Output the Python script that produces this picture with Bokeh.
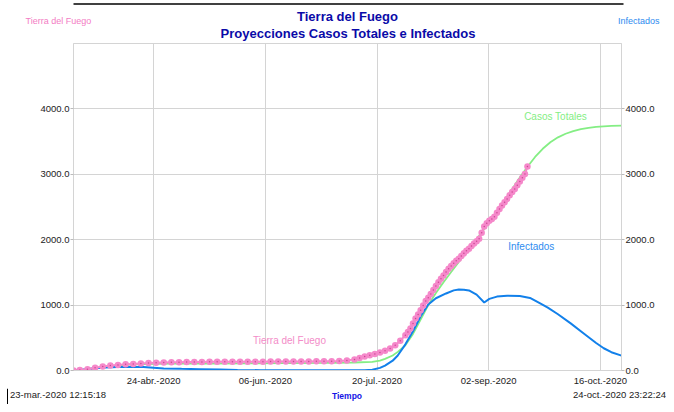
import pandas as pd
from bokeh.plotting import figure
from bokeh.layouts import column, row
from bokeh.models import (LinearAxis, FixedTicker, NumeralTickFormatter, Label,
                          Range1d)
from bokeh.core.properties import value
from bokeh.embed import file_html
from bokeh.resources import INLINE

ORIGIN = pd.Timestamp("2020-01-01")


def to_day(seq):
    ts = pd.Series([pd.Timestamp(s) for s in seq])
    return [round(v, 5) for v in ((ts - ORIGIN) / pd.Timedelta(days=1)).tolist()]


# ---------------- data ----------------
time_start = "2020-03-23 12:15:18"
time_end = "2020-10-24 23:22:24"
start_label = "23-mar.-2020 12:15:18"
end_label = "24-oct.-2020 23:22:24"

tick_times = ["2020-04-24 01:12", "2020-06-06 22:48", "2020-07-20 20:24",
              "2020-09-02 18:00", "2020-10-16 15:36"]
tick_labels = ["24-abr.-2020", "06-jun.-2020", "20-jul.-2020",
               "02-sep.-2020", "16-oct.-2020"]
y_ticks = [0, 1000, 2000, 3000, 4000]

# Tierra del Fuego (observed data)
tdf_dates = ([time_start, "2020-03-26", "2020-03-29", "2020-04-01", "2020-04-04",
              "2020-04-07", "2020-04-10", "2020-04-13", "2020-04-16", "2020-04-19",
              "2020-04-22", "2020-04-25", "2020-04-28", "2020-05-01", "2020-05-04",
              "2020-05-07", "2020-05-10", "2020-05-13", "2020-05-16", "2020-05-19",
              "2020-05-22", "2020-05-25", "2020-05-28", "2020-05-31", "2020-06-03",
              "2020-06-06", "2020-06-09", "2020-06-12", "2020-06-15", "2020-06-18",
              "2020-06-21", "2020-06-24", "2020-06-27", "2020-06-30", "2020-07-03",
              "2020-07-06", "2020-07-09", "2020-07-12", "2020-07-14", "2020-07-16",
              "2020-07-18", "2020-07-20", "2020-07-22", "2020-07-24", "2020-07-26",
              "2020-07-28", "2020-07-30"]
             + [d.strftime("%Y-%m-%d") for d in pd.date_range("2020-08-01", "2020-09-18")])
tdf_values = [0, 8, 20, 42, 60, 75, 86, 95, 101, 107,
              113, 118, 122, 125, 127, 129, 130, 131, 132, 132,
              133, 133, 134, 134, 135, 135, 136, 136, 137, 137,
              138, 139, 140, 141, 142, 145, 152, 170, 192, 213,
              232, 252, 276, 303, 338, 385, 455,
              # August (daily)
              540, 590, 644, 718, 796, 858, 922, 995, 1062, 1112,
              1170, 1232, 1292, 1350, 1402, 1452, 1508, 1557, 1598, 1640,
              1678, 1710, 1752, 1792, 1830, 1862, 1902, 1942, 1978, 2014, 2108,
              # September (daily)
              2200, 2252, 2290, 2318, 2350, 2412, 2468, 2522, 2572, 2622,
              2680, 2728, 2775, 2832, 2890, 2948, 3003, 3120]

# Casos Totales (model)
casos_dates = [time_start, "2020-03-27", "2020-04-01", "2020-04-05", "2020-04-10",
               "2020-04-15", "2020-04-20", "2020-04-25", "2020-05-01", "2020-05-15",
               "2020-06-01", "2020-06-15", "2020-07-01", "2020-07-12", "2020-07-19",
               "2020-07-22", "2020-07-24", "2020-07-27", "2020-07-29", "2020-08-01",
               "2020-08-04", "2020-08-07", "2020-08-10", "2020-08-13", "2020-08-16",
               "2020-08-19", "2020-08-22", "2020-08-25", "2020-08-28", "2020-08-31",
               "2020-09-03", "2020-09-06", "2020-09-09", "2020-09-12", "2020-09-15",
               "2020-09-18", "2020-09-21", "2020-09-24", "2020-09-27", "2020-09-30",
               "2020-10-03", "2020-10-06", "2020-10-09", "2020-10-12", "2020-10-15",
               "2020-10-18", "2020-10-21", time_end]
casos_values = [0, 10, 33, 58, 78, 90, 97, 101, 104, 107,
                110, 113, 116, 122, 132, 152, 178, 230, 285, 385,
                560, 780, 1000, 1185, 1350, 1505, 1660, 1810, 1955, 2110,
                2270, 2435, 2600, 2775, 2950, 3115, 3265, 3390, 3490, 3565,
                3620, 3660, 3690, 3710, 3724, 3734, 3740, 3745]

# Infectados (model)
inf_dates = [time_start, "2020-03-26", "2020-03-29", "2020-04-01", "2020-04-05",
             "2020-04-10", "2020-04-15", "2020-04-20", "2020-04-24", "2020-04-28",
             "2020-05-05", "2020-05-12", "2020-05-20", "2020-05-27", "2020-06-05",
             "2020-06-15", "2020-07-01", "2020-07-12", "2020-07-16", "2020-07-19",
             "2020-07-22", "2020-07-24", "2020-07-27", "2020-07-29", "2020-08-01",
             "2020-08-04", "2020-08-07", "2020-08-10", "2020-08-13", "2020-08-17",
             "2020-08-20", "2020-08-22", "2020-08-24", "2020-08-26", "2020-08-29",
             "2020-09-01", "2020-09-03", "2020-09-06", "2020-09-10", "2020-09-15",
             "2020-09-19", "2020-09-23", "2020-09-26", "2020-09-30", "2020-10-05",
             "2020-10-10", "2020-10-15", "2020-10-18", "2020-10-21", time_end]
inf_values = [0, 8, 22, 36, 47, 53, 55, 52, 42, 32,
              25, 20, 14, 8, 5, 3, 2, 2, 4, 12,
              40, 75, 150, 230, 400, 600, 830, 1010, 1105, 1178,
              1225, 1237, 1236, 1225, 1160, 1040, 1095, 1130, 1142, 1140,
              1110, 1025, 960, 860, 720, 570, 420, 340, 280, 228]

# ---------------- styling ----------------
FONT = "Liberation Sans"
PINK = "#F588CA"
GREEN = "#84EE84"
BLUE = "#1280EA"
GRID = "#D4D4D4"
TITLE_C = "#0A0AA8"
W = 666
HEAD_H, MAIN_H, FOOT_H = 42, 346, 16


def blank(h):
    f = figure(width=W, height=h, output_backend="svg", toolbar_location=None,
               title=None, x_axis_type=None, y_axis_type=None,
               x_range=Range1d(0, W), y_range=Range1d(h, 0),
               min_border=0, min_border_left=0, min_border_right=0,
               min_border_top=0, min_border_bottom=0)
    f.outline_line_color = None
    f.grid.visible = False
    return f


def txt(f, x, y, s, size, color, align="left", bold=False):
    f.text(x=[x], y=[y], text=[s], text_font=value(FONT), text_font_size=size,
           text_color=color, text_align=align, text_baseline="middle",
           text_font_style="bold" if bold else "normal")


# header
head = blank(HEAD_H)
head.segment(x0=[73], y0=[3.5], x1=[623], y1=[3.5], line_color="black", line_width=1.5)
txt(head, 347, 15.5, "Tierra del Fuego", "13px", TITLE_C, "center", True)
txt(head, 347.5, 32.5, "Proyecciones Casos Totales e Infectados", "13px", TITLE_C,
    "center", True)
txt(head, 25, 20, "Tierra del Fuego", "9px", "#F37CC4")
txt(head, 617.5, 20, "Infectados", "9px", "#2E8BEF")

# main plot
x0, x1 = to_day([time_start, time_end])
tick_x = to_day(tick_times)

p = figure(width=W, height=MAIN_H, output_backend="svg", toolbar_location=None,
           title=None, x_range=Range1d(x0, x1), y_range=Range1d(0, 5000),
           min_border_left=73, min_border_right=45, min_border_top=1,
           min_border_bottom=16)
p.outline_line_color = GRID

p.xaxis.ticker = FixedTicker(ticks=tick_x)
p.xaxis.major_label_overrides = {t: lab for t, lab in zip(tick_x, tick_labels)}
p.xaxis.major_tick_out = 0
p.xaxis.major_tick_in = 0
p.xaxis.minor_tick_line_color = None
p.xaxis.axis_line_color = GRID
p.xaxis.major_label_standoff = 4

right_axis = LinearAxis()
p.add_layout(right_axis, "right")
for ax in (p.yaxis[0], right_axis):
    ax.ticker = FixedTicker(ticks=y_ticks)
    ax.formatter = NumeralTickFormatter(format="0.0")
    ax.major_tick_out = 3
    ax.major_tick_in = 0
    ax.minor_tick_line_color = None
    ax.major_tick_line_color = "#BBBBBB"
    ax.axis_line_color = GRID
    ax.major_label_standoff = 1

for ax in (p.xaxis[0], p.yaxis[0], right_axis):
    ax.major_label_text_font = FONT
    ax.major_label_text_font_size = "9.5px"
    ax.major_label_text_color = "#222222"

p.xgrid.grid_line_color = GRID
p.ygrid.grid_line_color = GRID
p.xgrid.ticker = FixedTicker(ticks=tick_x)
p.ygrid.ticker = FixedTicker(ticks=y_ticks)

p.line(to_day(casos_dates), casos_values, line_color=GREEN, line_width=1.8)
p.line(to_day(inf_dates), inf_values, line_color=BLUE, line_width=2)
tdf_x = to_day(tdf_dates)
p.line(tdf_x, tdf_values, line_color=PINK, line_width=2)
p.scatter(tdf_x, tdf_values, size=6.5, fill_color=PINK, line_color=None)
p.scatter(tdf_x, tdf_values, size=1.5, fill_color="#C8408E", line_color=None,
          fill_alpha=0.9)

p.add_layout(Label(x=to_day(["2020-09-29 01:00"])[0], y=3890, text="Casos Totales",
                   text_font=FONT, text_font_size="10px", text_color=GREEN,
                   text_align="center", text_baseline="middle"))
p.add_layout(Label(x=to_day(["2020-09-19 12:00"])[0], y=1889, text="Infectados",
                   text_font=FONT, text_font_size="10px", text_color="#2E8BEF",
                   text_align="center", text_baseline="middle"))
p.add_layout(Label(x=to_day(["2020-06-16 10:00"])[0], y=460, text="Tierra del Fuego",
                   text_font=FONT, text_font_size="10px", text_color="#F38CC8",
                   text_align="center", text_baseline="middle"))

# footer
foot = blank(FOOT_H)
foot.segment(x0=[7], y0=[0], x1=[7], y1=[FOOT_H], line_color="black", line_width=1)
txt(foot, 9.5, 5.5, start_label, "9.5px", "#222222")
txt(foot, 665.5, 5.5, end_label, "9.5px", "#222222", "right")
txt(foot, 346.5, 7, "Tiempo", "8.5px", "#1414E6", "center", True)

layout = column(row(head), p, row(foot), spacing=0)
open("out.html", "w").write(file_html(layout, INLINE))
